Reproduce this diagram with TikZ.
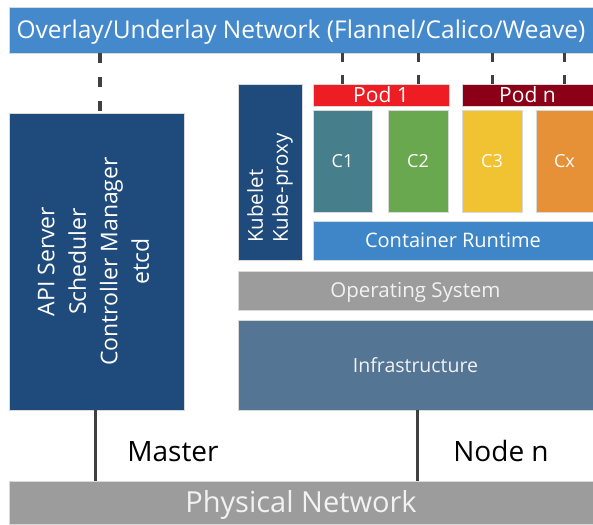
\documentclass[tikz,border=0pt]{standalone}
\usepackage{fontspec}
\setmainfont{Open Sans}

\definecolor{netblue}{HTML}{4389CC}
\definecolor{darkblue}{HTML}{1F4A7C}
\definecolor{rtblue}{HTML}{3E86C8}
\definecolor{slate}{HTML}{547594}
\definecolor{layergray}{HTML}{9C9C9C}
\definecolor{podred}{HTML}{EE1D23}
\definecolor{poddark}{HTML}{8B0016}
\definecolor{cteal}{HTML}{477E8B}
\definecolor{cgreen}{HTML}{6AA84F}
\definecolor{cyellow}{HTML}{F1C232}
\definecolor{corange}{HTML}{E69138}
\definecolor{linegray}{HTML}{404040}
\definecolor{softwhite}{HTML}{F2F2F2}

\tikzset{
  block/.style={rectangle, inner sep=0pt, outer sep=0pt, text=white,
    draw=white!85!black, line width=0.6pt, align=center},
  % font of size #1 with the capitals centred in the box
  fs/.style={font=\fontsize{#1}{#1}\selectfont, text height=0.72*#1 pt, text depth=0pt},
  netlink/.style={draw=linegray, line width=3.5pt, dash pattern=on 10pt off 14pt},
  podlink/.style={draw=linegray, line width=3pt, dash pattern=on 9pt off 13pt},
  wire/.style={draw=linegray, line width=3pt},
  caption/.style={inner sep=0pt, fs=28, text=black}
}

\begin{document}
\begin{tikzpicture}[x=1pt,y=-1pt]
  \useasboundingbox[fill=white] (0,0) rectangle (593,524);

  % network layers
  \node[block, fill=netblue, minimum width=584pt, minimum height=46pt, fs=24.5]
        (overlay) at (301,30) {Overlay/Underlay Network (Flannel/Calico/Weave)};
  \node[block, fill=layergray, minimum width=584pt, minimum height=43pt, fs=29,
        text=softwhite] (physical) at (301,502.5) {Physical Network};

  % master
  \node[block, fill=darkblue, minimum width=175pt, minimum height=297pt] (master) at (96.5,261.5) {};
  \node[rotate=90, text=white, align=center, font=\fontsize{23}{31.5}\selectfont]
        (mastertext) at ([xshift=-3pt]master.center)
        {API Server\\Scheduler\\Controller Manager\\etcd};

  % worker node
  \node[block, fill=darkblue, minimum width=64pt, minimum height=176pt] (kubelet) at (270,172) {};
  \node[rotate=90, anchor=west, inner sep=0pt, text=white, align=left,
        font=\fontsize{20.5}{25}\selectfont]
        (kubelettext) at ([xshift=0pt]kubelet.center |- 0,243) {Kubelet\\Kube-proxy};

  \node[block, fill=podred, minimum width=136pt, minimum height=22pt, fs=21]
        (pod1) at (381,95) {Pod 1};
  \node[block, fill=poddark, minimum width=131pt, minimum height=22pt, fs=21]
        (podn) at (527.5,95) {Pod n};

  \node[block, fill=cteal, minimum width=59pt, minimum height=102pt, fs=18]
        (c1) at (342.5,161) {C1};
  \node[block, fill=cgreen, minimum width=60pt, minimum height=102pt, fs=18]
        (c2) at (418,161) {C2};
  \node[block, fill=cyellow, minimum width=60pt, minimum height=102pt, fs=18]
        (c3) at (492,161) {C3};
  \node[block, fill=corange, minimum width=57pt, minimum height=102pt, fs=18]
        (cx) at (564.5,161) {Cx};

  \node[block, fill=rtblue, minimum width=280pt, minimum height=39pt, fs=20]
        (runtime) at (453,240.5) {Container Runtime};
  \node[block, fill=layergray, minimum width=355pt, minimum height=39pt, fs=20.5,
        text=softwhite] (os) at (415.5,290.5) {Operating System};
  \node[block, fill=slate, minimum width=355pt, minimum height=90pt, fs=19.5,
        text=softwhite] (infra) at (415.5,365) {Infrastructure};

  % host labels
  \node[caption] (masterlabel) at (173,451) {Master};
  \node[caption] (nodelabel) at (501,451) {Node n};

  % overlay connections
  \draw[netlink] ([xshift=3.5pt]master.north |- overlay.south) -- ([xshift=3.5pt]master.north);
  \foreach \c in {c1,c2,c3,cx}{
    \draw[podlink] (\c.center |- overlay.south) -- (\c.center |- pod1.north);
  }

  % physical connections
  \draw[wire] ([xshift=-1.5pt]master.south) -- ([xshift=-1.5pt]master.south |- physical.north);
  \draw[wire] ([xshift=-1pt]c2.center |- infra.south) -- ([xshift=-1pt]c2.center |- physical.north);
\end{tikzpicture}
\end{document}
